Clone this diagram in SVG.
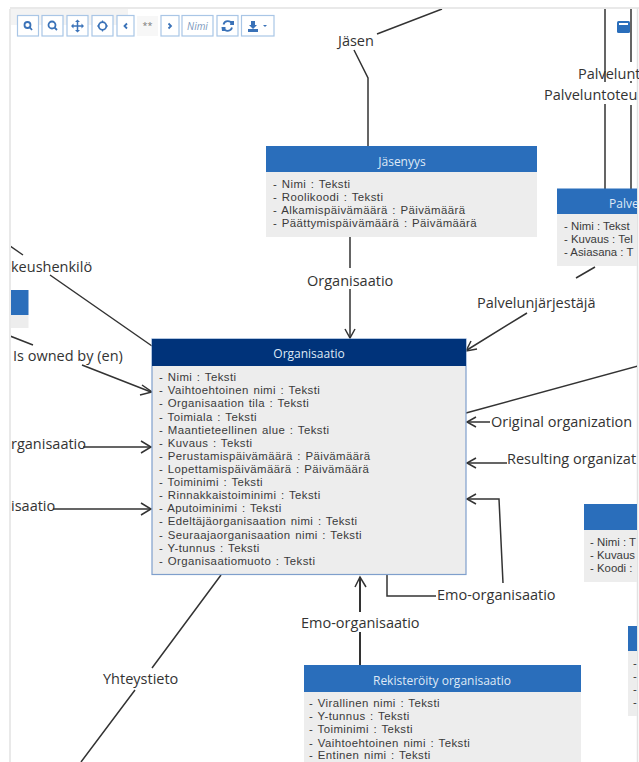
<svg xmlns="http://www.w3.org/2000/svg" width="639" height="762" viewBox="0 0 639 762">
<defs><clipPath id="pane"><rect x="11" y="9" width="626" height="753"/></clipPath></defs>
<style>
text{font-family:"Open Sans","Noto Sans","Liberation Sans",sans-serif;fill:#333}
.a{font-family:"Liberation Sans",Arial,sans-serif;font-size:11.400px;word-spacing:1px;letter-spacing:.42px;fill:#3a3a3a}
.n{letter-spacing:0;word-spacing:0}
.l{font-size:14.500px;fill:#333}
.h{font-size:12px;fill:#dfe9f6;text-anchor:middle}
.b{fill:#ededed}
.t{fill:#2a6ebb}
.c{fill:none;stroke:#333;stroke-width:1.500}
.btn{fill:#fff;stroke:#a9c6e6;stroke-width:1.200}
.ic{fill:none;stroke:#3a72b8;stroke-width:1.800}
</style>
<rect width="639" height="762" fill="#fff"/>
<path d="M10 9V762M10 8H639M637.500 8V762" fill="none" stroke="#e2e2e2" stroke-width="1.500"/>
<rect x="11" y="9" width="117" height="16" fill="#f3f3f3"/>
<g id="connectors" clip-path="url(#pane)">
<path class="c" d="M442 9L377 34M354 50L368 78V146M350 237V268M350 289V338"/>
<path class="c" d="M345 329L350 338L355 329"/>
<path class="c" d="M10 246L23 255M50 275L152 346M10 336L33 345M82 365L151 392"/>
<path class="c" d="M142 385L152 392L140 395"/>
<path class="c" d="M83 447H151M53 509H151"/>
<path class="c" d="M141 441L151 447L141 453M141 503L151 509L141 515"/>
<path class="c" d="M605 9V82M605 104V189M631 9V62M631 81V83M631 105V189"/>
<path class="c" d="M595 267L576 278M527 313L467 350"/>
<path class="c" d="M471 341L466 351L477 349"/>
<path class="c" d="M466 413L638 366"/>
<path class="c" d="M467 422H490M467 463H507"/>
<path class="c" d="M476 417L467 422L476 427M476 458L467 463L476 468"/>
<path class="c" d="M467 499H499L503 583"/>
<path class="c" d="M476 494L467 499L476 504"/>
<path class="c" d="M387 575V596H436"/>
<path class="c" style="stroke-width:2" d="M360 577V612M360 632V665"/>
<path class="c" d="M355 587L360 577L366 587"/>
<path class="c" d="M221 575L152 668M135 690L81 762"/>
</g>
<g id="toolbar">
<rect class="btn" x="17.500" y="15.500" width="21" height="20.500"/><rect class="btn" x="42" y="15.500" width="21" height="20.500"/><rect class="btn" x="67" y="15.500" width="21" height="20.500"/><rect class="btn" x="92" y="15.500" width="21" height="20.500"/><rect class="btn" x="117" y="15.500" width="17" height="20.500"/>
<rect x="137" y="16" width="21" height="20" fill="#f7f7f7"/>
<text x="147.500" y="29" font-size="9" text-anchor="middle" style="fill:#777">**</text>
<rect class="btn" x="161" y="15.500" width="18" height="20.500"/><rect class="btn" x="182" y="15.500" width="31" height="20.500"/><rect class="btn" x="217" y="15.500" width="21" height="20.500"/><rect class="btn" x="241.500" y="15.500" width="32.500" height="20.500"/>
<circle class="ic" cx="27.500" cy="25" r="3"/><path class="ic" d="M29.500 27L32 30"/>
<circle class="ic" cx="52" cy="25" r="3.500"/><path class="ic" d="M54.500 27.500L57 30"/>
<path class="ic" d="M77.500 21V31M72.500 26H82.500" style="stroke-width:1.500"/><path d="M77.500 19.500L80 22H75ZM77.500 32.500L80 30H75ZM71 26L73.500 23.500V28.500ZM84 26L81.500 23.500V28.500Z" fill="#3a72b8"/>
<circle class="ic" cx="102.500" cy="26" r="3.800"/><path class="ic" d="M102.500 20.500V22.500M102.500 29.500V31.500M97 26H99M106 26H108" style="stroke-width:1.200"/>
<path class="ic" d="M127 23.500L124.500 26L127 28.500M168.500 23.500L171 26L168.500 28.500"/>
<text x="197.500" y="30" font-size="10" font-style="italic" text-anchor="middle" style="fill:#7b98bd">Nimi</text>
<path class="ic" d="M223.500 24.500A4.500 4.500 0 0 1 232 24M232 27.500A4.500 4.500 0 0 1 223.500 28"/><path d="M231 21H234V25H230ZM221.500 27H225.500V31H222Z" fill="#3a72b8"/>
<path d="M248 32H258V29H248ZM251 21H255V25H257L253 29L249 25H251Z" fill="#3a72b8"/>
<path d="M263 25H267L265 27Z" fill="#3a72b8"/>
</g>
<g id="collapse"><rect x="617" y="21" width="13" height="12" rx="1.500" fill="#2a6ebb"/><rect x="619" y="23" width="9" height="2" fill="#fff"/></g>
<g id="jasenyys">
<rect class="t" x="266" y="146" width="271" height="26"/><rect class="b" x="266" y="172" width="271" height="65"/>
<text class="h" x="402" y="166">Jäsenyys</text>
<text class="a" x="273" y="188">- Nimi : Teksti</text><text class="a" x="273" y="201">- Roolikoodi : Teksti</text><text class="a" x="273" y="214">- Alkamispäivämäärä : Päivämäärä</text><text class="a" x="273" y="227">- Päättymispäivämäärä : Päivämäärä</text>
</g>
<g id="palvelu">
<rect class="t" x="557" y="188.500" width="80" height="25.500"/><rect class="b" x="557" y="214" width="80" height="52"/>
<text x="609" y="208" font-size="12" style="fill:#dfe9f6">Palve</text>
<text class="a n" x="564" y="230">- Nimi : Tekst</text><text class="a n" x="564" y="243">- Kuvaus : Tel</text><text class="a n" x="564" y="256">- Asiasana : T</text>
</g>
<g id="vasen"><rect class="t" x="11" y="290" width="17.500" height="25"/><rect class="b" x="11" y="315" width="17.500" height="13"/></g>
<g id="organisaatio">
<rect x="152" y="339" width="314" height="235.500" fill="#ededed" stroke="#7f9fcc" stroke-width="1.200"/>
<rect x="152" y="339" width="314" height="27" fill="#00337a"/>
<text class="h" x="309" y="358">Organisaatio</text>
<text class="a" x="159" y="381">- Nimi : Teksti</text><text class="a" x="159" y="394">- Vaihtoehtoinen nimi : Teksti</text><text class="a" x="159" y="407">- Organisaation tila : Teksti</text><text class="a" x="159" y="421">- Toimiala : Teksti</text><text class="a" x="159" y="434">- Maantieteellinen alue : Teksti</text><text class="a" x="159" y="447">- Kuvaus : Teksti</text><text class="a" x="159" y="460">- Perustamispäivämäärä : Päivämäärä</text><text class="a" x="159" y="473">- Lopettamispäivämäärä : Päivämäärä</text><text class="a" x="159" y="486">- Toiminimi : Teksti</text><text class="a" x="159" y="499">- Rinnakkaistoiminimi : Teksti</text><text class="a" x="159" y="512">- Aputoiminimi : Teksti</text><text class="a" x="159" y="525">- Edeltäjäorganisaation nimi : Teksti</text><text class="a" x="159" y="539">- Seuraajaorganisaation nimi : Teksti</text><text class="a" x="159" y="552">- Y-tunnus : Teksti</text><text class="a" x="159" y="565">- Organisaatiomuoto : Teksti</text>
</g>
<g id="koodisto">
<rect class="t" x="584" y="504" width="53" height="26"/><rect class="b" x="584" y="530" width="53" height="52"/>
<text class="a n" x="590" y="546">- Nimi : T</text><text class="a n" x="590" y="559">- Kuvaus</text><text class="a n" x="590" y="572">- Koodi :</text>
</g>
<g id="oikea"><rect class="t" x="628" y="626" width="9" height="25"/><rect class="b" x="628" y="651" width="9" height="65"/>
<text class="a" x="633" y="667">-</text><text class="a" x="633" y="680">-</text><text class="a" x="633" y="693">-</text><text class="a" x="633" y="706">-</text></g>
<g id="rekisteroity">
<rect class="t" x="304" y="665" width="277" height="27"/><rect class="b" x="304" y="692" width="277" height="70"/>
<text class="h" x="442" y="685">Rekisteröity organisaatio</text>
<text class="a" x="309" y="707">- Virallinen nimi : Teksti</text><text class="a" x="309" y="720">- Y-tunnus : Teksti</text><text class="a" x="309" y="733">- Toiminimi : Teksti</text><text class="a" x="309" y="747">- Vaihtoehtoinen nimi : Teksti</text><text class="a" x="309" y="759">- Entinen nimi : Teksti</text>
</g>
<g id="labels">
<text class="l" x="338" y="46">Jäsen</text>
<text class="l" x="307" y="286">Organisaatio</text>
<text class="l" x="477" y="308">Palvelunjärjestäjä</text>
<text class="l" x="11" y="272">keushenkilö</text>
<text class="l" x="13" y="361">Is owned by (en)</text>
<text class="l" x="11" y="449">rganisaatio</text>
<text class="l" x="11" y="511">isaatio</text>
<text class="l" x="578" y="79">Palvelunt</text>
<text class="l" x="544" y="100">Palveluntoteu</text>
<text class="l" x="491" y="427">Original organization</text>
<text class="l" x="507" y="464">Resulting organizat</text>
<text class="l" x="437" y="600">Emo-organisaatio</text>
<text class="l" x="301" y="628">Emo-organisaatio</text>
<text class="l" x="103" y="684">Yhteystieto</text>
</g>
</svg>
